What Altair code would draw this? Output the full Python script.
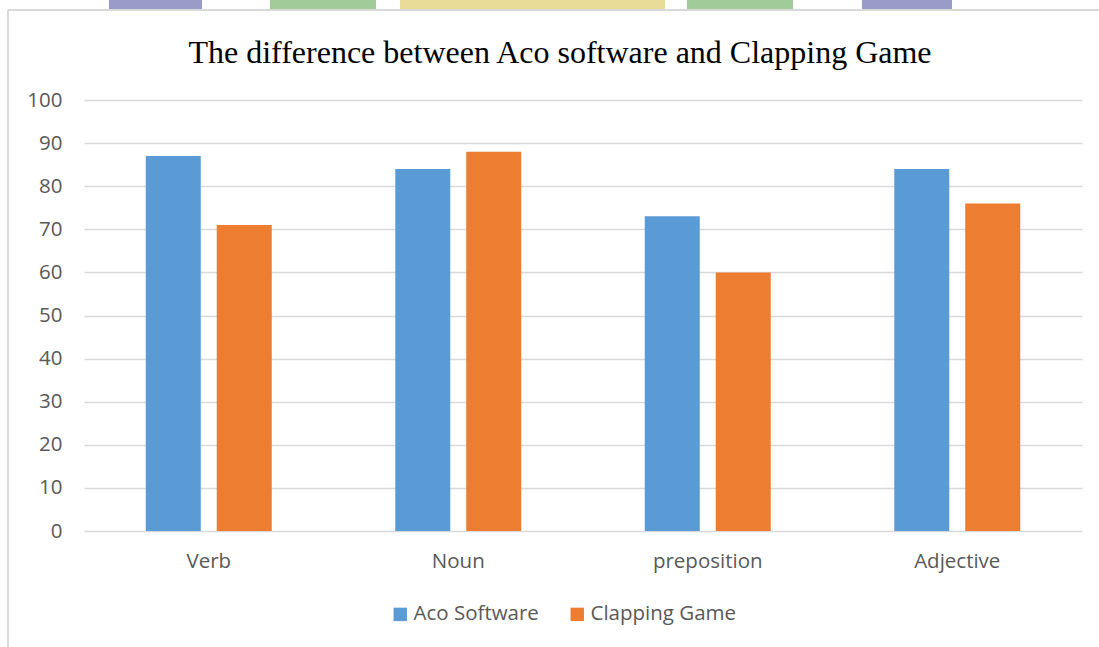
import altair as alt
import pandas as pd

categories = ["Verb", "Noun", "preposition", "Adjective"]
aco_software = [87, 84, 73, 84]
clapping_game = [71, 88, 60, 76]
series_names = ["Aco Software", "Clapping Game"]
series_colors = ["#5B9BD5", "#ED7D31"]
y_ticks = [0, 10, 20, 30, 40, 50, 60, 70, 80, 90, 100]
title_text = "The difference between Aco software and Clapping Game"

rows = []
for i, c in enumerate(categories):
    rows.append({"category": c, "series": series_names[0], "value": aco_software[i]})
    rows.append({"category": c, "series": series_names[1], "value": clapping_game[i]})
df = pd.DataFrame(rows)

FONT = "Open Sans"
FS = 20.5
PLOT_W, PLOT_H = 998, 431
LEFT, TOP = 84, 100

bars = alt.Chart(df).mark_bar().encode(
    x=alt.X("category:N", sort=categories, title=None,
            scale=alt.Scale(paddingInner=0, paddingOuter=0),
            axis=alt.Axis(labelAngle=0, domain=False, ticks=False, labelPadding=20,
                          labelFontSize=FS, labelColor="#595959", labelFont=FONT)),
    xOffset=alt.XOffset("series:N", sort=series_names,
                        scale=alt.Scale(paddingInner=0.225, paddingOuter=0.87)),
    y=alt.Y("value:Q", title=None,
            scale=alt.Scale(domain=[0, 100], nice=False),
            axis=alt.Axis(values=y_ticks, domain=False, ticks=False, labelPadding=22,
                          labelFontSize=FS, labelColor="#595959", labelFont=FONT,
                          gridColor="#d9d9d9", gridWidth=1.3)),
    color=alt.Color("series:N", sort=series_names,
                    scale=alt.Scale(domain=series_names, range=series_colors),
                    legend=alt.Legend(title=None, orient="none", direction="horizontal",
                                      legendX=306, legendY=504,
                                      symbolType="square", symbolSize=180,
                                      symbolStrokeWidth=0, labelFontSize=FS,
                                      labelColor="#595959", labelFont=FONT,
                                      columnPadding=28, labelOffset=3)),
)

# decorative page elements (frame and header blocks)
decor_specs = [
    (109 - LEFT, 202 - LEFT, "#9a9cc8"),
    (270 - LEFT, 376 - LEFT, "#a2cb9a"),
    (400 - LEFT, 665 - LEFT, "#e9db98"),
    (687 - LEFT, 793 - LEFT, "#a2cb9a"),
    (862 - LEFT, 952 - LEFT, "#9a9cc8"),
]
dummy = pd.DataFrame({"d": [0]})
layers = []
for x0, x1, col in decor_specs:
    layers.append(alt.Chart(dummy).mark_rect(clip=False).encode(
        x=alt.value(x0), x2=alt.value(x1), y=alt.value(0 - TOP), y2=alt.value(9 - TOP),
        color=alt.value(col)))
layers.append(alt.Chart(dummy).mark_rule(clip=False, strokeWidth=2).encode(
    x=alt.value(8 - LEFT), x2=alt.value(1099 - LEFT), y=alt.value(10 - TOP),
    color=alt.value("#d9d9d9")))
layers.append(alt.Chart(dummy).mark_rule(clip=False, strokeWidth=2).encode(
    x=alt.value(8 - LEFT), y=alt.value(10 - TOP), y2=alt.value(647 - TOP),
    color=alt.value("#d9d9d9")))

title_layer = alt.Chart(pd.DataFrame({"t": [title_text]})).mark_text(
    font="Liberation Serif", fontSize=32, color="#000000",
    align="center", baseline="alphabetic", clip=False,
).encode(text="t:N", x=alt.value(560 - LEFT), y=alt.value(63 - TOP))

chart = alt.layer(*layers, title_layer, bars).properties(
    width=PLOT_W, height=PLOT_H,
    background="white",
    autosize=alt.AutoSizeParams(type="none"),
    padding={"left": LEFT, "top": TOP, "right": 1099 - LEFT - PLOT_W, "bottom": 647 - TOP - PLOT_H},
).configure_view(stroke=None)

chart.save("out.html", embed_options={"renderer": "svg", "actions": False})
